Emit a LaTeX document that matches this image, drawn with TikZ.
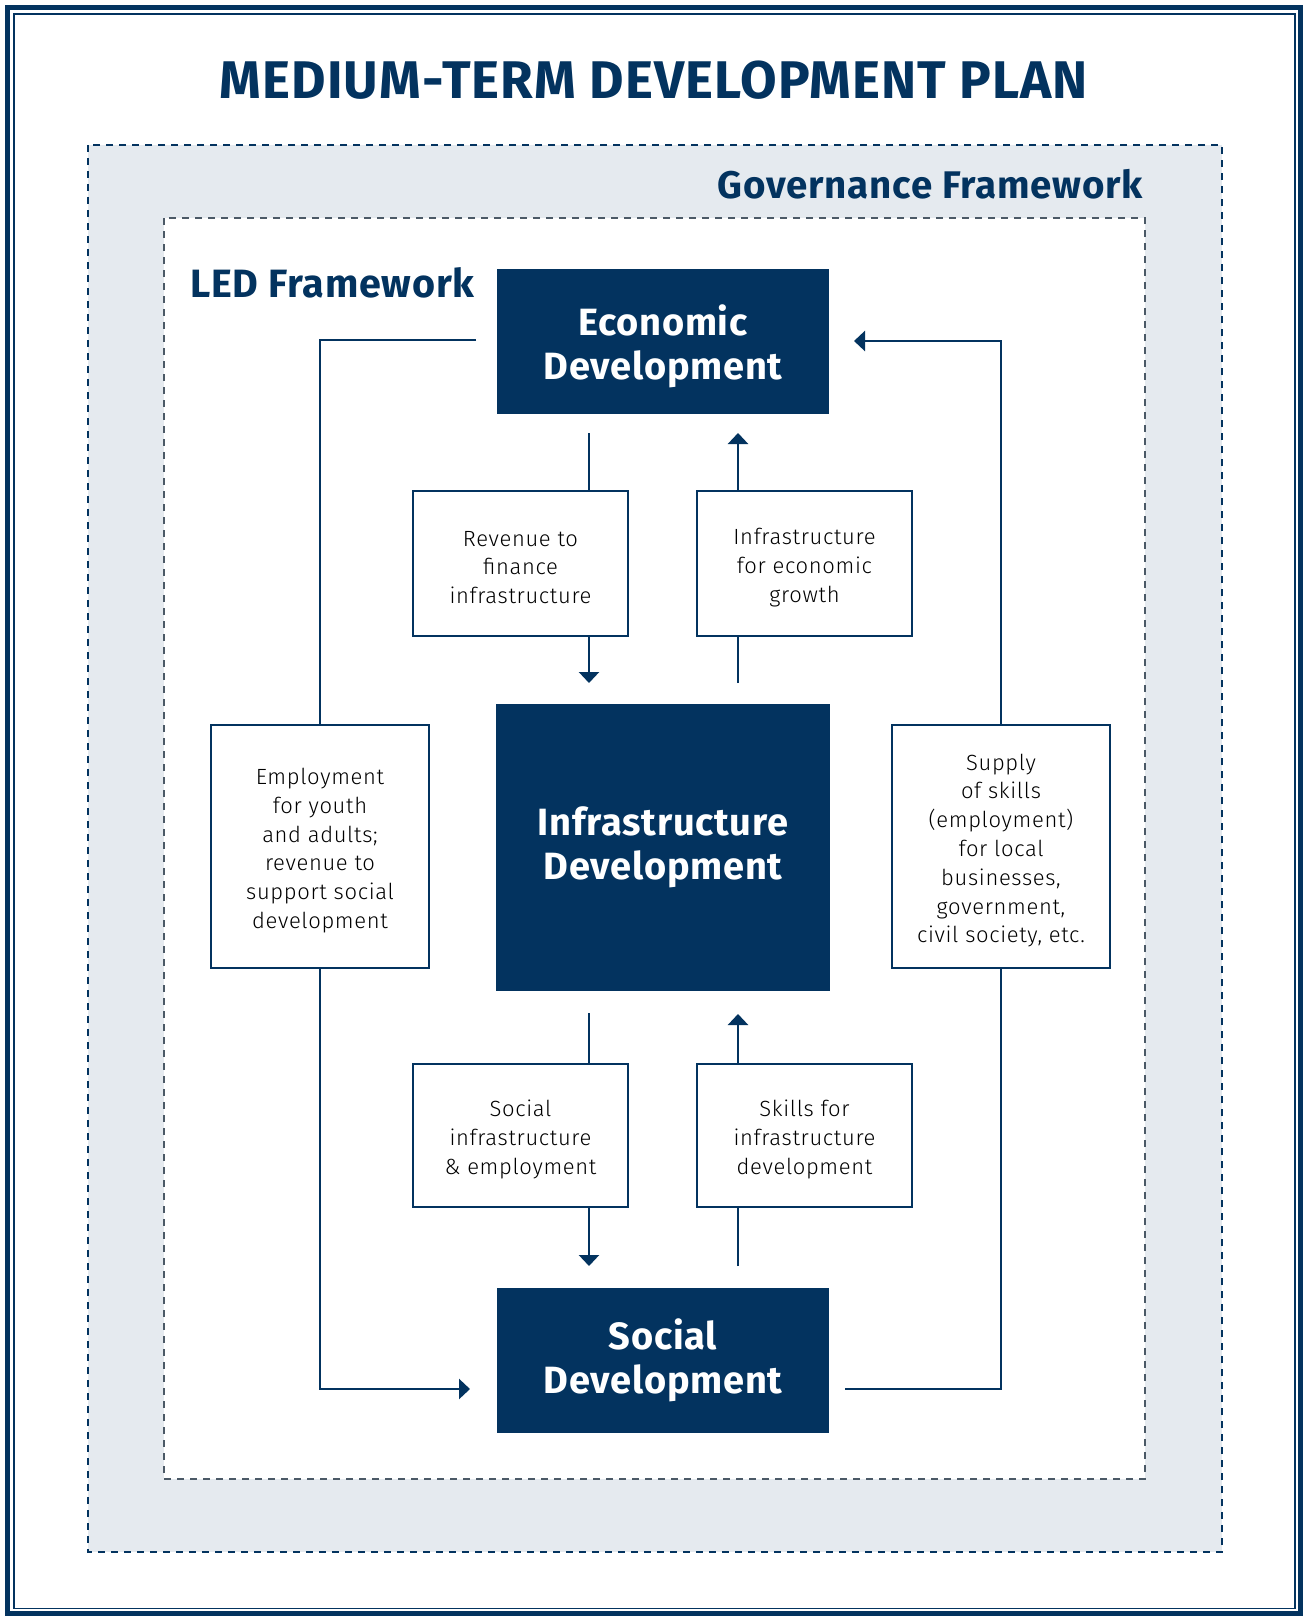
\documentclass[tikz,border=0pt]{standalone}
\usepackage{fontspec}
\setmainfont{Fira Sans}[UprightFont=* Light, BoldFont=* Bold]
\newfontfamily\bodyfont{Fira Sans}[UprightFont=* Light, LetterSpace=3]
\newfontfamily\headfont{Fira Sans}[UprightFont=* Bold, LetterSpace=2]
\usetikzlibrary{arrows.meta}
\definecolor{navy}{HTML}{03335F}
\definecolor{govgray}{HTML}{E5EAEF}
\definecolor{dashgray}{HTML}{4B5966}
\tikzset{
  mainbox/.style={fill=navy, text=white, inner sep=0pt, align=center,
    font=\headfont\fontsize{38}{44}\selectfont},
  smallbox/.style={draw=navy, line width=2.5pt, fill=white, inner sep=0pt},
  boxtext/.style={inner sep=0pt, align=center, text=black,
    font=\bodyfont\fontsize{22}{28.8}\selectfont},
  conn/.style={draw=navy, line width=2.5pt},
  arr/.style={conn, -{Triangle[width=20pt,length=11pt]}},
  heading/.style={text=navy, inner sep=0pt, font=\headfont\fontsize{38}{44}\selectfont},
  framedash/.style={line width=2.8pt, dash pattern=on 7pt off 6pt},
}
\begin{document}
\begin{tikzpicture}[x=1pt,y=-1pt]
\useasboundingbox (0,0) rectangle (1303,1616);
% outer frames
\draw[navy, line width=5pt] (7.5,7.5) rectangle (1300.5,1613.5);
\draw[navy, line width=1.7pt] (14.2,14.2) rectangle (1294.8,1608.5);
% governance area
\draw[navy, fill=govgray, framedash] (88,145) rectangle (1222,1552);
\draw[dashgray, fill=white, framedash] (164,218) rectangle (1145,1479);
% headings
\node[heading, anchor=base, font=\headfont\fontsize{53}{60}\selectfont] (title) at (654,99) {MEDIUM-TERM DEVELOPMENT PLAN};
\node[heading, anchor=base east, font=\headfont\fontsize{38.5}{44}\selectfont] (gov) at (1143,198) {Governance Framework};
\node[heading, anchor=base west, font=\headfont\fontsize{39.5}{44}\selectfont] (led) at (190,297) {LED Framework};
% main boxes
\node[mainbox, minimum width=332pt, minimum height=145pt] (econ) at (663,341.5) {};
\node[mainbox] (econt) at ([yshift=-5pt]econ.center) {Economic\\Development};
\node[mainbox, minimum width=334pt, minimum height=287pt] (infra) at (663,847.5) {Infrastructure\\Development};
\node[mainbox, minimum width=332pt, minimum height=145pt] (social) at (663,1360.5) {Social\\Development};
% small boxes
\node[smallbox, minimum width=215pt, minimum height=145pt] (rev) at (520.5,563.5) {};
\node[boxtext] (revt) at ([yshift=-4pt]rev.center) {Revenue to\\finance\\infrastructure};
\node[smallbox, minimum width=215pt, minimum height=145pt] (ifeg) at (804.5,563.5) {};
\node[boxtext] (ifegt) at ([yshift=-4pt]ifeg.center) {Infrastructure\\for economic\\growth};
\node[smallbox, minimum width=215pt, minimum height=143pt] (socinf) at (520.5,1135.5) {};
\node[boxtext] (socinft) at ([yshift=-4pt]socinf.center) {Social\\infrastructure\\\&~employment};
\node[smallbox, minimum width=215pt, minimum height=143pt] (skills) at (804.5,1135.5) {};
\node[boxtext] (skillst) at ([yshift=-4pt]skills.center) {Skills for\\infrastructure\\development};
\node[smallbox, minimum width=218pt, minimum height=243pt] (emp) at (320,846.5) {};
\node[boxtext] (empt) at ([yshift=-4pt]emp.center) {Employment\\for youth\\and adults;\\revenue to\\support social\\development};
\node[smallbox, minimum width=218pt, minimum height=243pt] (supply) at (1001,846.5) {};
\node[boxtext] (supplyt) at ([yshift=-4pt]supply.center) {Supply\\of skills\\(employment)\\for local\\businesses,\\government,\\civil society, etc.};
% free ends
\coordinate (a1) at (589,433);
\coordinate (a2) at (589,683);
\coordinate (b1) at (738,683);
\coordinate (b2) at (738,433);
\coordinate (c1) at (589,1013);
\coordinate (c2) at (589,1266);
\coordinate (d1) at (738,1266);
\coordinate (d2) at (738,1014);
\coordinate (l1) at (476,340);
\coordinate (l2) at (470,1389);
\coordinate (r1) at (845,1389);
\coordinate (r2) at (854,341);
% vertical connectors
\draw[conn] (a1) -- (a1 |- rev.north);
\draw[arr] (a1 |- rev.south) -- (a2);
\draw[conn] (b1) -- (b1 |- ifeg.south);
\draw[arr] (b1 |- ifeg.north) -- (b2);
\draw[conn] (c1) -- (c1 |- socinf.north);
\draw[arr] (c1 |- socinf.south) -- (c2);
\draw[conn] (d1) -- (d1 |- skills.south);
\draw[arr] (d1 |- skills.north) -- (d2);
% side loops
\draw[conn] (l1) -| (emp.north);
\draw[arr] (emp.south) |- (l2);
\draw[conn] (r1) -| (supply.south);
\draw[arr] (supply.north) |- (r2);
\end{tikzpicture}
\end{document}
